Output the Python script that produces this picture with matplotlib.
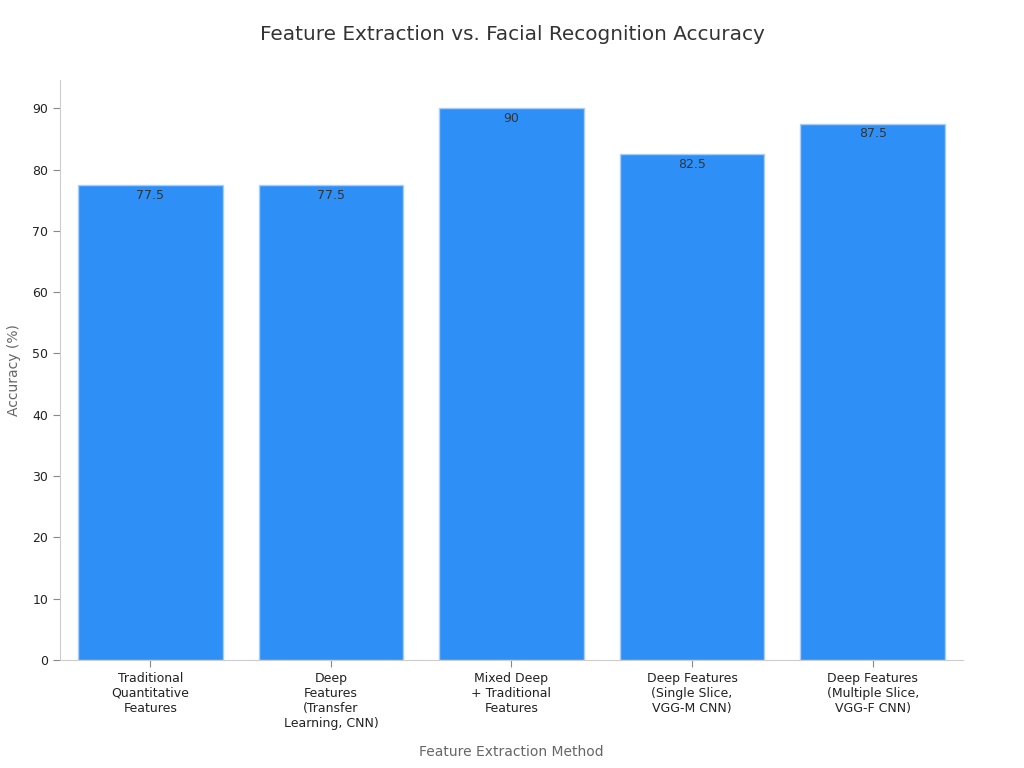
import matplotlib
matplotlib.use('Agg')
import matplotlib.pyplot as plt

# Datos
methods = ['Traditional\nQuantitative\nFeatures',
           'Deep\nFeatures\n(Transfer\nLearning, CNN)',
           'Mixed Deep\n+ Traditional\nFeatures',
           'Deep Features\n(Single Slice,\nVGG-M CNN)',
           'Deep Features\n(Multiple Slice,\nVGG-F CNN)']
accuracy = [77.5, 77.5, 90, 82.5, 87.5]
value_labels = ['77.5', '77.5', '90', '82.5', '87.5']

fig = plt.figure(figsize=(10.24, 7.68), dpi=100)
ax = fig.add_axes([0.0586, 0.1406, 0.8818, 0.7552])

x = range(len(methods))
bars = ax.bar(x, accuracy, width=0.8, color='#2e90f7', edgecolor='#a9cdf5', linewidth=1)

for rect, lbl in zip(bars, value_labels):
    ax.text(rect.get_x() + rect.get_width() / 2, rect.get_height() - 0.6, lbl,
            ha='center', va='top', fontsize=9, color='#333333')

ax.set_xlim(-0.5, 4.5)
ax.set_ylim(0, 94.6)
ax.set_yticks(range(0, 91, 10))
ax.set_xticks(list(x))
ax.set_xticklabels(methods, fontsize=9, color='#222222')
ax.tick_params(axis='y', labelsize=9, labelcolor='#222222', color='#888888', length=5)
ax.tick_params(axis='x', color='#888888', length=5)

for side in ['top', 'right']:
    ax.spines[side].set_visible(False)
for side in ['left', 'bottom']:
    ax.spines[side].set_color('#cccccc')

ax.set_xlabel('Feature Extraction Method', fontsize=10, color='#666666', labelpad=11)
ax.set_ylabel('Accuracy (%)', fontsize=10, color='#666666', labelpad=8)
fig.suptitle('Feature Extraction vs. Facial Recognition Accuracy', fontsize=14.4,
             color='#333333', y=0.967)

fig.savefig('out.png', dpi=100)
